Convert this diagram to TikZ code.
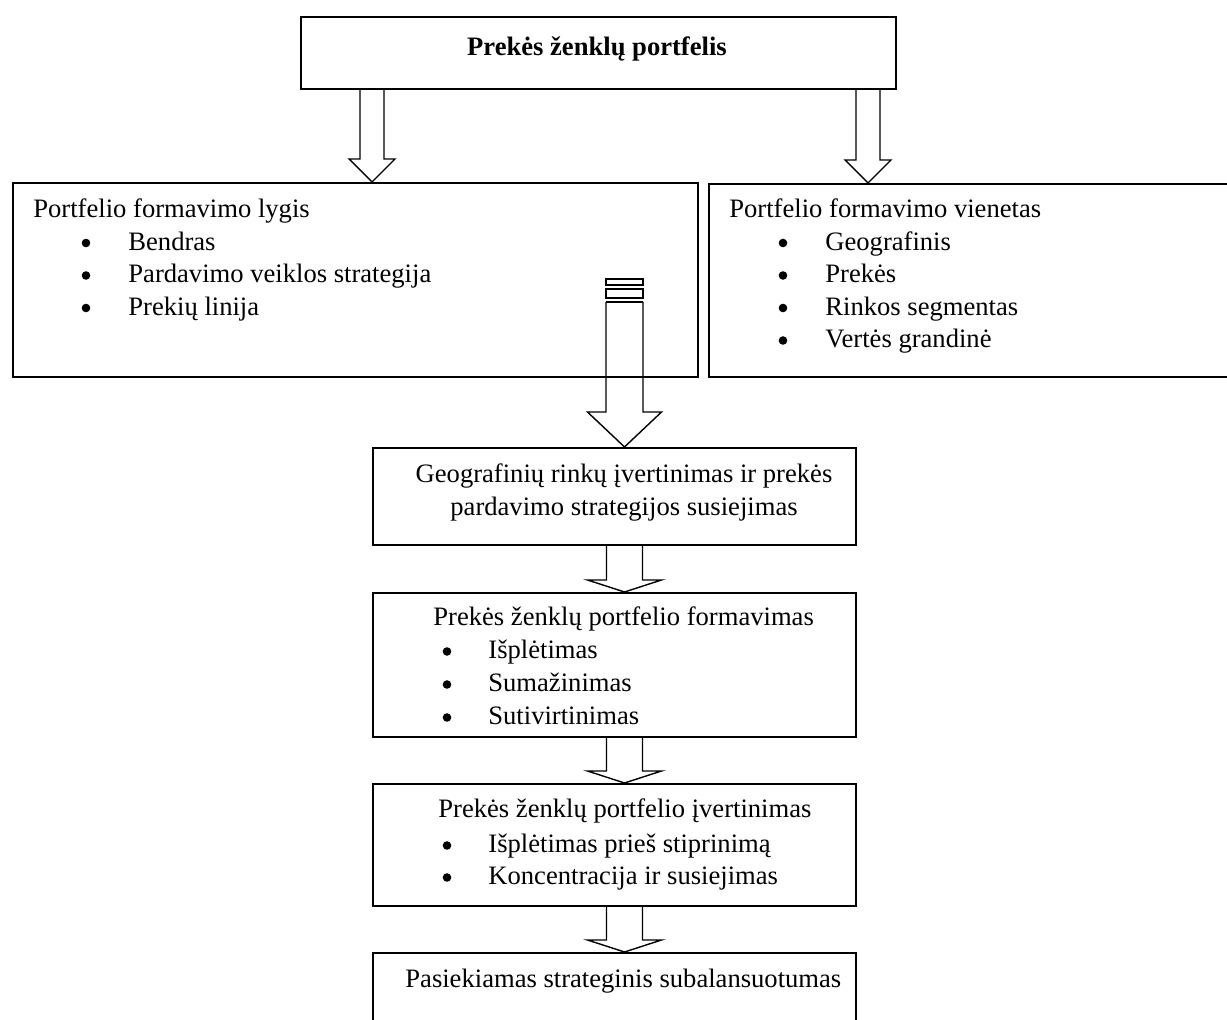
\documentclass[tikz,border=0pt]{standalone}
\usepackage{fontspec}
\setmainfont{Liberation Serif}
\usetikzlibrary{calc}

% hollow block arrow: from, to, shaft half width, head half width, head length
\newcommand\hollowarrow[5]{%
  \draw[hollow] ($(#1)+(-#3,0)$) -- ($(#2)+(-#3,-#5)$) -- ($(#2)+(-#4,-#5)$)
    -- (#2) -- ($(#2)+(#4,-#5)$) -- ($(#2)+(#3,-#5)$) -- ($(#1)+(#3,0)$);}

\begin{document}
\begin{tikzpicture}[x=0.5pt,y=-0.5pt,
  frame/.style={draw, line width=0.85pt, rectangle, inner sep=0pt, anchor=north west},
  txt/.style={anchor=base west, inner sep=0pt, font=\fontsize{13.3}{16}\selectfont},
  ctr/.style={anchor=base, inner sep=0pt, font=\fontsize{13.3}{16}\selectfont},
  dot/.style={circle, fill=black, inner sep=0pt, minimum size=4.3pt},
  hollow/.style={draw, line width=0.7pt, line join=miter}
]
\useasboundingbox (0,0) rectangle (1227,1020);
\clip (0,0) rectangle (1227,1020);

% boxes
\node[frame, minimum width=297.5pt, minimum height=36pt]   (brand) at (300,16)  {};
\node[frame, minimum width=342.5pt, minimum height=97pt]   (lvl)   at (12,182)  {};
\node[frame, minimum width=280pt,   minimum height=96.5pt] (unit)  at (708,183) {};
\node[frame, minimum width=241.5pt, minimum height=48.5pt] (geo)   at (372,447) {};
\node[frame, minimum width=241.5pt, minimum height=72pt]   (form)  at (372,592) {};
\node[frame, minimum width=241.5pt, minimum height=61pt]   (eval)  at (372,783) {};
\node[frame, minimum width=241.5pt, minimum height=50pt]   (goal)  at (372,952) {};

% texts
\node[ctr, font=\fontsize{13.3}{16}\selectfont\bfseries] (brandT) at (597,56) {Prekės ženklų portfelis};

\node[txt] (lvlT) at (33,218) {Portfelio formavimo lygis};
\foreach \t [count=\i] in {Bendras, Pardavimo veiklos strategija, Prekių linija}{
  \node[dot] (lvlB\i) at (86,218+32.5*\i-7.5) {};
  \node[txt] (lvlI\i) at (128,218+32.5*\i) {\t};
}

\node[txt] (unitT) at (729,218) {Portfelio formavimo vienetas};
\foreach \t [count=\i] in {Geografinis, Prekės, Rinkos segmentas, Vertės grandinė}{
  \node[dot] (unitB\i) at (783,218+32.5*\i-7.5) {};
  \node[txt] (unitI\i) at (825,218+32.5*\i) {\t};
}

\node[ctr] (geo1) at (624,483) {Geografinių rinkų įvertinimas ir prekės};
\node[ctr] (geo2) at (624,515.5) {pardavimo strategijos susiejimas};

\node[txt] (formT) at (433,626) {Prekės ženklų portfelio formavimas};
\foreach \t [count=\i] in {Išplėtimas, Sumažinimas, Sutivirtinimas}{
  \node[dot] (formB\i) at (447,626+33*\i-7.5) {};
  \node[txt] (formI\i) at (488,626+33*\i) {\t};
}

\node[txt] (evalT) at (438,818) {Prekės ženklų portfelio įvertinimas};
\node[dot] (evalB1) at (447,853-7.5) {};
\node[txt] (evalI1) at (488,853) {Išplėtimas prieš stiprinimą};
\node[dot] (evalB2) at (447,885-7.5) {};
\node[txt] (evalI2) at (488,885) {Koncentracija ir susiejimas};

\node[txt] (goalT) at (405,988) {Pasiekiamas strateginis subalansuotumas};

% arrow axes
\coordinate (axL) at (372,0);
\coordinate (axR) at (868,0);
\coordinate (axC) at (624.5,0);

\coordinate (l0) at (brand.south -| axL);
\coordinate (l1) at (lvl.north -| axL);
\coordinate (r0) at (brand.south -| axR);
\coordinate (r1) at (unit.north -| axR);
\coordinate (c0) at (624.5,302);
\coordinate (c1) at (geo.north -| axC);
\coordinate (d0) at (geo.south -| axC);
\coordinate (d1) at (form.north -| axC);
\coordinate (e0) at (form.south -| axC);
\coordinate (e1) at (eval.north -| axC);
\coordinate (f0) at (eval.south -| axC);
\coordinate (f1) at (goal.north -| axC);

\hollowarrow{l0}{l1}{12}{23}{23}
\hollowarrow{r0}{r1}{12}{23}{23}

% central arrow with its two bars above
\draw[hollow] (606,279) rectangle (643,285);
\draw[hollow] (606,289) rectangle (643,298);
\hollowarrow{c0}{c1}{18.5}{37}{35}
\draw[hollow] ($(c0)+(-18.5,0)$) -- ($(c0)+(18.5,0)$);

\hollowarrow{d0}{d1}{18}{37}{12}
\hollowarrow{e0}{e1}{18}{37}{12}
\hollowarrow{f0}{f1}{18}{37}{12}
\end{tikzpicture}
\end{document}
